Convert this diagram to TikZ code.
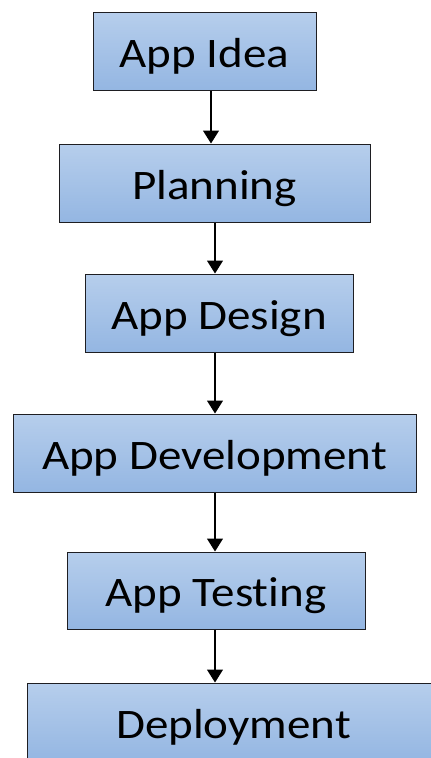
\documentclass[tikz,border=0pt]{standalone}
\usepackage{fontspec}
\setmainfont{Carlito}[FakeStretch=1.12, Ligatures=NoCommon]
\usetikzlibrary{arrows.meta}

\definecolor{boxtop}{RGB}{182,206,236}
\definecolor{boxbottom}{RGB}{148,182,226}
\definecolor{boxline}{RGB}{30,30,34}

\tikzset{
  stage/.style={
    rectangle, draw=boxline, line width=1pt,
    top color=boxtop, bottom color=boxbottom,
    inner sep=0pt, text height=32pt, text depth=0pt,
    font=\fontsize{42}{48}\selectfont
  },
  flow/.style={
    line width=1.2pt, draw=black,
    -{Triangle[width=16pt,length=13pt]}
  }
}

\begin{document}
\begin{tikzpicture}[x=1pt,y=-1pt]
  \useasboundingbox (0,0) rectangle (431,758);
  \clip (0,0) rectangle (431,758);

  % process stages, top to bottom
  \node[stage, minimum width=223pt, minimum height=78pt] (idea)   at (204.5,51)  {App Idea};
  \node[stage, minimum width=311pt, minimum height=78pt] (plan)   at (214.5,183) {Planning};
  \node[stage, minimum width=268pt, minimum height=78pt] (design) at (219,313)   {App Design};
  \node[stage, minimum width=403pt, minimum height=78pt] (dev)    at (214.5,453) {App Development};
  \node[stage, minimum width=298pt, minimum height=77pt] (test)   at (216,590.5) {App Testing};
  \node[stage, minimum width=413pt, minimum height=78pt] (deploy) at (233.5,722) {Deployment};

  % vertical guides the connectors run along
  \coordinate (spineA) at (211,0);
  \coordinate (spineB) at (215,0);

  \draw[flow] (idea.south -| spineA)   -- (plan.north -| spineA);
  \draw[flow] (plan.south -| spineB)   -- (design.north -| spineB);
  \draw[flow] (design.south -| spineB) -- (dev.north -| spineB);
  \draw[flow] (dev.south -| spineB)    -- (test.north -| spineB);
  \draw[flow] (test.south -| spineB)   -- (deploy.north -| spineB);
\end{tikzpicture}
\end{document}
